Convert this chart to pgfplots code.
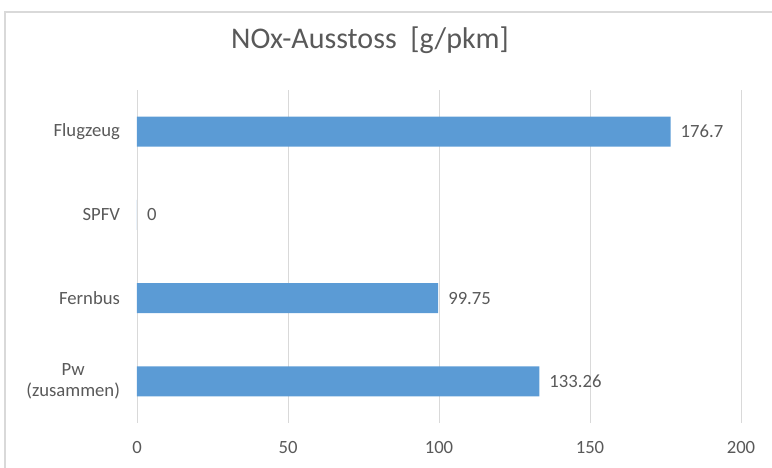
\documentclass[border=0pt]{standalone}
\usepackage{pgfplots}
\pgfplotsset{compat=1.18}
\usepackage{fontspec}
\setmainfont{Carlito}
\definecolor{barblue}{HTML}{5B9BD5}
\definecolor{txtgray}{HTML}{595959}
\definecolor{gridgray}{HTML}{D9D9D9}
\begin{document}
\begin{tikzpicture}
\path[use as bounding box] (0,0) rectangle (579pt,351pt);
\draw[gridgray, line width=0.8pt] (3.75pt,0) -- (3.75pt,342pt) -- (579pt,342pt);
\node[txtgray, font=\fontsize{22.5}{26}\selectfont] at (277.5pt,321pt) {NOx-Ausstoss\ \ [g/pkm]};
\begin{axis}[
  at={(102.75pt,33.75pt)}, anchor=south west,
  scale only axis, width=453pt, height=249.75pt,
  xbar, bar width=22.5pt,
  xmin=0, xmax=200, ymin=-0.5, ymax=3.5,
  xtick={0,50,...,200},
  ytick={0,1,2,3},
  yticklabels={{Pw\\(zusammen)},Fernbus,SPFV,Flugzeug},
  yticklabel style={align=center},
  xmajorgrids, major grid style={gridgray, line width=0.7pt},
  axis line style={draw=none},
  tick style={draw=none},
  ticklabel style={font=\fontsize{14}{16}\selectfont, text=txtgray},
  xticklabel shift=10pt,
  yticklabel shift=5pt,
  /pgf/number format/assume math mode=true,
  nodes near coords,
  nodes near coords style={font=\fontsize{14}{16}\selectfont, text=txtgray, xshift=4pt},
]
\addplot[fill=barblue, draw=none] coordinates {(133.26,0) (99.75,1) (0,2) (176.7,3)};
\end{axis}
\end{tikzpicture}
\end{document}
